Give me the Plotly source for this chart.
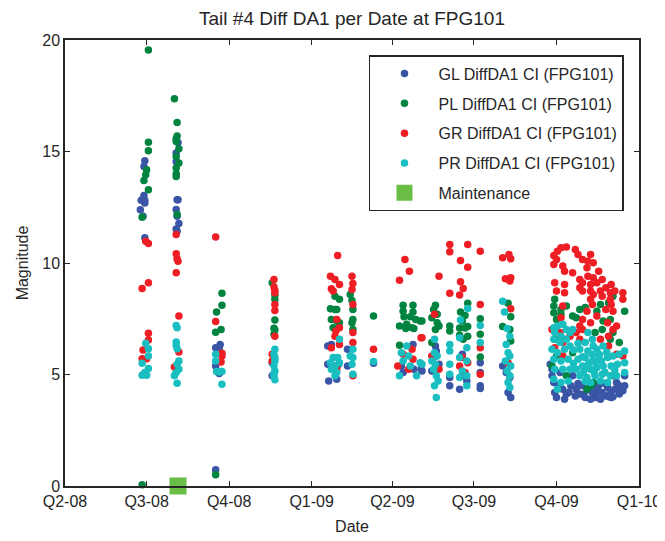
import pandas as pd
import plotly.graph_objects as go

START = pd.Timestamp("2008-04-01")

QUARTER_DATES = ["2008-04-01", "2008-07-01", "2008-10-01", "2009-01-01",
                 "2009-04-01", "2009-07-01", "2009-10-01", "2010-01-01"]
QUARTER_LABELS = ["Q2-08", "Q3-08", "Q4-08", "Q1-09", "Q2-09", "Q3-09", "Q4-09", "Q1-10"]
Y_TICKS = [0, 5, 10, 15, 20]

# days after 2008-04-01, magnitudes
GL_DAY = [89, 88, 88, 85, 89, 89, 84, 87, 89,
          126, 124, 124, 125, 126, 124, 125, 127, 124, 125,
          168, 173, 172, 168, 172, 168,
          231, 231,
          293, 297, 293, 305, 294, 303, 315, 315, 344,
          388, 375, 389, 377, 397, 398,
          413, 414, 411, 409, 417, 429, 429,
          443, 443, 448, 440, 463, 463, 463, 463,
          488, 492, 496, 494, 497,
          543, 545, 546, 548, 557, 555, 564, 570, 574, 580, 586, 591, 597, 603, 608, 613,
          618, 622, 624, 624, 566, 577, 593, 605, 615, 559, 569, 588, 599, 609, 618, 552,
          541, 543, 550, 562, 572, 582, 592, 602, 611, 578, 595, 607, 619, 589]
GL_VAL = [14.59, 14.33, 13.03, 12.81, 12.81, 12.69, 12.39, 12.10, 11.13,
          15.40, 14.93, 14.54, 12.84, 12.84, 12.40, 12.10, 11.77, 11.53, 11.42,
          6.20, 6.35, 6.20, 5.38, 5.04, 0.73,
          5.53, 4.94,
          6.28, 6.35, 5.46, 5.46, 4.71, 4.79, 6.13, 5.38, 5.50,
          6.35, 5.38, 5.23, 5.09, 5.23, 5.16,
          6.28, 6.05, 5.76, 5.16, 5.46, 4.86, 4.49,
          5.91, 4.94, 4.71, 4.34, 5.53, 5.09, 4.49, 4.37,
          5.38, 5.09, 4.86, 4.19, 3.97,
          5.23, 4.64, 4.19, 3.97, 3.89, 4.34, 4.49, 4.34, 4.12, 3.97, 3.89, 3.97, 3.89, 4.04, 4.19, 4.34,
          4.49, 4.27, 4.94, 4.49, 4.94, 4.49, 4.34, 4.42, 4.64, 4.12, 4.04, 4.19, 4.19, 3.97, 4.12, 5.09,
          5.46, 4.94, 4.50, 4.20, 4.60, 4.30, 4.10, 4.60, 4.00, 4.10, 4.50, 4.00, 4.30, 4.60]

PL_DAY = [93, 93, 93, 91, 90, 88, 93, 86, 86,
          122, 125, 125, 124, 124, 127, 124, 127, 124, 124, 124, 125,
          175, 175, 169, 174, 168, 168,
          231, 234, 234, 234, 233, 234, 233,
          301, 306, 301, 296, 303, 297, 303, 306, 299,
          318, 320, 321, 321, 320, 321, 344,
          377, 388, 377, 388, 385, 378, 391, 373, 381, 387, 380, 389, 396, 373, 398,
          413, 411, 415, 409, 415, 413, 417, 409, 429, 429,
          449, 441, 446, 443, 449, 440, 446, 440, 449, 444,
          463, 463, 463,
          494, 497, 488, 496, 497,
          546, 545, 553, 559, 545, 553, 548, 566, 570, 574, 580, 593, 597, 606, 611, 608,
          600, 611, 624, 599, 591, 608, 618, 586, 582, 589, 546, 548, 543, 566, 559, 611]
PL_VAL = [19.55, 15.42, 15.03, 14.18, 13.96, 13.70, 13.29, 12.05, 0.06,
          17.36, 16.30, 15.70, 15.57, 15.45, 15.12, 14.78, 14.48, 14.26, 14.00, 13.88, 12.17,
          8.64, 8.10, 7.80, 7.02, 6.90, 0.51,
          9.11, 8.56, 8.37, 7.44, 7.07, 6.99, 6.80,
          8.51, 8.37, 7.92, 7.95, 7.92, 7.47, 7.40, 7.32, 7.10,
          8.59, 8.32, 7.92, 7.47, 7.32, 7.02, 7.62,
          8.10, 8.10, 7.84, 7.80, 7.59, 7.59, 7.47, 7.17, 7.25, 7.10, 7.06, 7.06, 7.40, 6.31, 7.40,
          8.10, 7.92, 7.70, 7.55, 7.32, 7.02, 7.17, 6.43, 7.17, 6.95,
          8.19, 7.80, 7.65, 7.40, 7.15, 7.08, 7.08, 6.76, 6.72, 6.58,
          7.50, 6.80, 5.79,
          8.19, 7.59, 7.15, 7.02, 6.50,
          8.37, 8.07, 7.92, 8.07, 7.77, 7.70, 7.47, 7.62, 7.55, 7.92, 8.00, 7.84, 8.14, 8.22, 8.51, 7.47,
          7.40, 6.88, 7.84, 7.02, 6.88, 6.58, 6.43, 4.49, 4.34, 4.64, 6.58, 5.83, 5.38, 5.98, 4.94, 4.94]

GR_DAY = [90, 93, 93, 86, 93, 93, 87, 86, 91,
          124, 124, 125, 126, 124, 127, 127, 122,
          168, 168, 175, 175, 174,
          233, 233, 234, 234, 234, 234, 234, 231, 231,
          304, 296, 301, 306, 297, 299, 303, 306, 302, 301, 297, 306, 303,
          320, 321, 320, 321, 321, 321, 321, 344,
          379, 384, 373, 397, 377, 387, 388, 383, 371, 398,
          417, 412, 409, 417, 429, 429, 429,
          449, 441, 449, 441, 444, 440, 443, 449, 440, 446,
          463, 463, 463, 463,
          488, 495, 497, 491, 496, 497, 497, 494,
          553, 559, 549, 545, 548, 545, 555, 557, 569, 572, 577, 586, 583, 589, 582, 595,
          566, 574, 577, 583, 589, 586, 593, 599, 603, 609, 608, 613, 622, 622, 574, 577,
          586, 589, 597, 599, 608, 609, 611, 603, 586, 588, 582, 593, 605, 615, 611, 606,
          597, 577, 574, 570, 577, 586, 546, 557, 548, 557, 555, 553, 543, 552, 563, 574,
          555, 546, 555, 606, 615, 622]
GR_VAL = [10.98, 10.87, 9.11, 8.86, 6.85, 6.55, 6.10, 5.71, 5.71,
          11.28, 10.41, 10.19, 10.08, 9.56, 7.62, 6.01, 5.34,
          11.17, 7.38, 5.95, 5.83, 5.56,
          9.26, 8.92, 8.77, 8.67, 8.14, 7.87, 6.72, 5.91, 5.61,
          10.34, 9.41, 9.26, 9.04, 8.85, 8.74, 7.47, 7.10, 6.95, 6.72, 6.20, 6.35, 5.23,
          9.41, 9.08, 8.81, 8.14, 6.88, 6.43, 4.94, 6.13,
          10.16, 9.63, 9.23, 6.65, 5.91, 6.13, 5.68, 5.23, 5.38, 6.65,
          9.41, 7.70, 5.83, 5.23, 10.83, 10.50, 8.64,
          10.83, 10.11, 9.81, 9.16, 8.86, 8.56, 5.76, 5.53, 5.38, 5.09,
          10.53, 8.14, 6.20, 5.01,
          10.23, 10.38, 10.19, 9.29, 9.19, 9.34, 7.95, 5.53,
          10.68, 10.72, 10.53, 10.34, 10.16, 9.93, 9.86, 9.63, 10.60, 10.38, 10.16, 10.38, 10.08, 10.01, 9.79, 9.63,
          9.56, 9.26, 9.11, 9.41, 9.34, 9.04, 9.11, 9.26, 8.89, 9.04, 8.67, 8.74, 8.67, 8.37, 8.89, 8.74,
          8.74, 8.59, 8.74, 8.51, 8.37, 8.14, 7.84, 7.92, 8.37, 8.14, 7.84, 7.62, 7.32, 7.17, 7.02, 6.72,
          6.58, 7.47, 7.17, 6.88, 7.02, 7.32, 9.11, 9.04, 8.74, 8.67, 8.07, 7.55, 7.02, 6.88, 6.72, 6.58,
          6.43, 6.20, 5.83, 6.28, 5.91, 5.83]

PR_DAY = [90, 93, 93, 86, 93, 89, 86, 91,
          124, 125, 124, 124, 125, 127, 125, 127, 124, 122, 125,
          168, 168, 169, 175, 172, 175,
          234, 233, 234, 233, 234, 233, 234, 234, 233,
          306, 299, 304, 296, 301, 306, 297, 303, 301,
          321, 318, 321, 320, 321, 344,
          381, 375, 383, 377, 385, 373, 396, 392, 398,
          412, 412, 415, 409, 413, 411, 414, 416, 412, 414,
          429, 429, 429, 429,
          449, 441, 440, 448, 440, 448, 443, 448, 440, 448,
          463, 463,
          488, 490, 493, 496, 492, 494, 496, 491, 497, 493, 496, 494, 496,
          545, 549, 555, 559, 546, 553, 563, 545, 552, 559, 563, 543, 549, 557, 545, 553,
          561, 546, 555, 563, 545, 553, 561, 549, 566, 583, 588, 580, 589, 574, 583, 593,
          600, 572, 580, 588, 595, 605, 611, 618, 570, 577, 586, 593, 600, 609, 616, 574,
          582, 591, 599, 608, 615, 586, 624, 624, 624, 605, 597,
          577, 584, 590, 596, 602, 578, 588, 580, 604, 613, 572, 567, 567, 582, 592, 598, 607]
PR_VAL = [6.40, 6.16, 5.83, 5.50, 5.27, 5.09, 4.97, 4.97,
          7.20, 7.10, 6.46, 6.31, 6.16, 5.61, 5.46, 5.23, 5.09, 4.94, 4.61,
          5.91, 5.61, 5.13, 5.13, 5.11, 4.56,
          6.13, 5.91, 5.76, 5.38, 5.16, 4.94, 4.76, 5.60, 5.05,
          6.58, 5.76, 5.76, 5.53, 5.38, 5.53, 5.23, 5.09, 4.94,
          6.13, 5.83, 5.76, 5.46, 5.01, 5.58,
          6.28, 5.98, 5.83, 5.61, 5.38, 4.94, 5.53, 4.94, 5.46,
          6.58, 5.98, 5.83, 5.61, 5.46, 5.23, 4.94, 4.71, 4.49, 3.97,
          6.35, 6.05, 5.46, 5.01,
          7.96, 7.44, 6.65, 6.20, 5.76, 5.61, 5.16, 4.94, 4.86, 4.49,
          7.20, 6.43,
          8.29, 7.80, 7.06, 6.72, 6.35, 5.98, 5.83, 5.61, 5.38, 5.16, 4.94, 4.64, 4.42,
          7.10, 7.17, 7.25, 7.02, 6.88, 6.72, 6.88, 6.58, 6.43, 6.58, 6.28, 6.13, 5.98, 6.13, 5.68, 5.61,
          5.68, 5.23, 5.23, 5.23, 4.79, 4.64, 4.71, 4.34, 7.02, 6.88, 6.58, 6.43, 6.28, 6.13, 6.05, 6.13,
          6.28, 5.68, 5.76, 5.61, 5.68, 5.76, 5.83, 5.91, 5.23, 5.38, 5.23, 5.31, 5.38, 5.38, 5.46, 4.94,
          4.86, 4.94, 5.01, 4.94, 4.94, 4.64, 6.05, 5.53, 5.09, 4.64, 4.71,
          5.80, 5.50, 5.10, 5.90, 5.10, 5.10, 5.90, 4.70, 6.00, 5.20, 6.40, 5.50, 6.10, 5.30, 5.50, 5.60]

MAINT_DAY = [126]
MAINT_VAL = [0]

SERIES = [
    ("GL DiffDA1 CI (FPG101)", GL_DAY, GL_VAL, "#3A55A5"),
    ("PL DiffDA1 CI (FPG101)", PL_DAY, PL_VAL, "#00843F"),
    ("GR DiffDA1 CI (FPG101)", GR_DAY, GR_VAL, "#EE1E25"),
    ("PR DiffDA1 CI (FPG101)", PR_DAY, PR_VAL, "#19BEC0"),
]

FONT = "Liberation Sans, Arial, sans-serif"
INK = "#262626"

# the page body adds an 8px offset; figure size is reduced by that much
FIG_W, FIG_H = 657, 533


def to_dates(days):
    return START + pd.to_timedelta(days, unit="D")


fig = go.Figure()
for i, (name, d, v, c) in enumerate(SERIES):
    fig.add_trace(go.Scatter(
        x=to_dates(d), y=v, mode="markers", name=name,
        legendgroup=f"g{i}",
        marker=dict(color=c, size=7.5, line=dict(width=0)),
        cliponaxis=False,
    ))
fig.add_trace(go.Scatter(
    x=to_dates(MAINT_DAY), y=MAINT_VAL, mode="markers", name="Maintenance",
    legendgroup="g9",
    marker=dict(color="#6ABD45", size=17, symbol="square", line=dict(width=0)),
    cliponaxis=False,
))

fig.update_layout(
    width=FIG_W, height=FIG_H,
    margin=dict(l=57, r=26, t=32, b=55),
    paper_bgcolor="white", plot_bgcolor="white",
    font=dict(family=FONT, size=16, color=INK),
    title=dict(text="Tail #4 Diff DA1 per Date at FPG101", x=0.5, xref="paper",
               y=1 - 4 / FIG_H, yref="container", xanchor="center", yanchor="top",
               pad=dict(t=0, b=0),
               font=dict(family=FONT, size=19, color=INK)),
    showlegend=True,
    legend=dict(x=0.5296, y=0.966, xanchor="left", yanchor="top",
                bordercolor=INK, borderwidth=1.5, bgcolor="white",
                font=dict(family=FONT, size=16, color=INK),
                traceorder="grouped", tracegroupgap=6, itemwidth=58),
)
fig.update_xaxes(
    type="date", range=[QUARTER_DATES[0], QUARTER_DATES[-1]],
    tickvals=QUARTER_DATES, ticktext=QUARTER_LABELS,
    showline=True, linecolor=INK, linewidth=1.5, mirror="ticks",
    ticks="inside", ticklen=5, tickcolor=INK, tickwidth=1,
    showgrid=False, zeroline=False, automargin=False,
    title=dict(text="Date", standoff=12, font=dict(family=FONT, size=16, color=INK)),
    tickfont=dict(family=FONT, size=16, color=INK),
)
fig.update_yaxes(
    range=[0, 20], tickvals=Y_TICKS,
    showline=True, linecolor=INK, linewidth=1.5, mirror="ticks",
    ticks="inside", ticklen=5, tickcolor=INK, tickwidth=1,
    showgrid=False, zeroline=False, automargin=False,
    title=dict(text="Magnitude", standoff=10, font=dict(family=FONT, size=16, color=INK)),
    tickfont=dict(family=FONT, size=16, color=INK),
)

fig.write_html("out.html")
